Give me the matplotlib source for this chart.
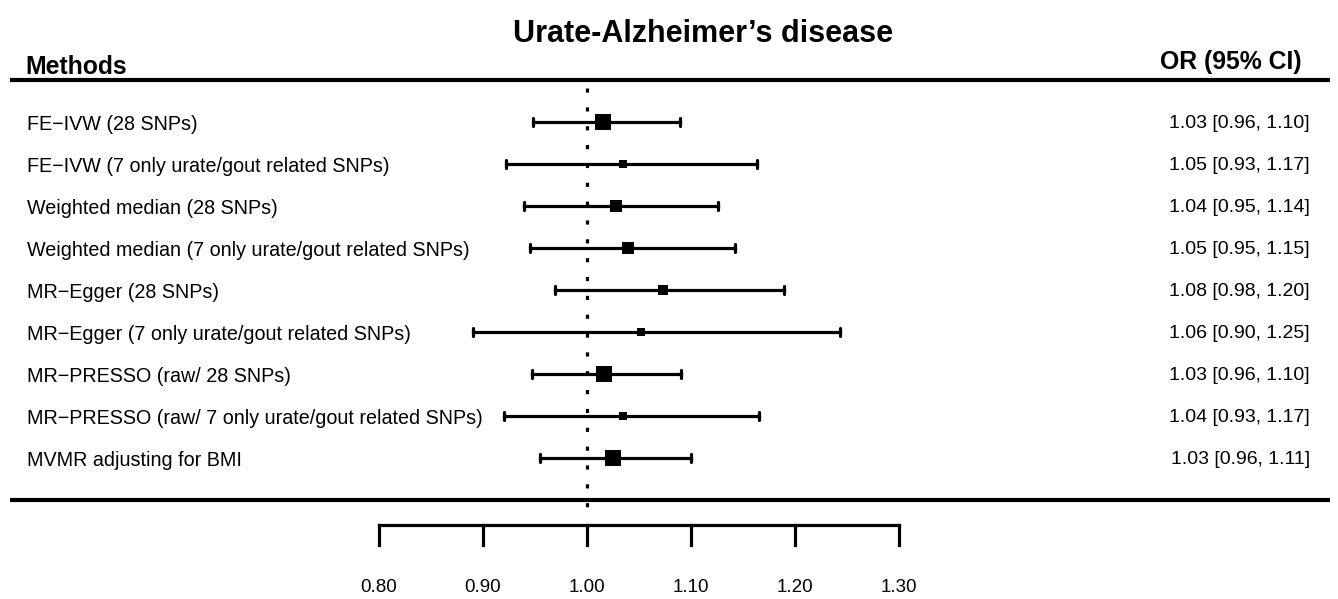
import matplotlib
matplotlib.use('Agg')
import matplotlib.pyplot as plt
import matplotlib.transforms as mtransforms

plt.rcParams['font.family'] = ['Liberation Sans', 'DejaVu Sans']

# data
methods = ['FE\u2212IVW (28 SNPs)',
           'FE\u2212IVW (7 only urate/gout related SNPs)',
           'Weighted median (28 SNPs)',
           'Weighted median (7 only urate/gout related SNPs)',
           'MR\u2212Egger (28 SNPs)',
           'MR\u2212Egger (7 only urate/gout related SNPs)',
           'MR\u2212PRESSO (raw/ 28 SNPs)',
           'MR\u2212PRESSO (raw/ 7 only urate/gout related SNPs)',
           'MVMR adjusting for BMI']
estimate = [1.015, 1.035, 1.028, 1.039, 1.073, 1.052, 1.016, 1.035, 1.025]
ci_low = [0.948, 0.922, 0.939, 0.945, 0.969, 0.890, 0.947, 0.920, 0.955]
ci_high = [1.089, 1.163, 1.126, 1.142, 1.189, 1.243, 1.090, 1.165, 1.100]
weight = [14, 8, 11, 11, 10, 7, 14, 8, 15]   # square side, px
or_text = ['1.03 [0.96, 1.10]', '1.05 [0.93, 1.17]', '1.04 [0.95, 1.14]',
           '1.05 [0.95, 1.15]', '1.08 [0.98, 1.20]', '1.06 [0.90, 1.25]',
           '1.03 [0.96, 1.10]', '1.04 [0.93, 1.17]', '1.03 [0.96, 1.11]']
ticks = [0.80, 0.90, 1.00, 1.10, 1.20, 1.30]

W, H = 1338, 599
fig = plt.figure(figsize=(W / 100, H / 100), dpi=100)
ax = fig.add_axes([0, 0, 1, 1])
ax.axis('off')

# pixel -> data: x = 1 + (px - 587)/1040, y row = (py - 80)/42
ax.set_xlim(1 + (0 - 587) / 1040, 1 + (W - 587) / 1040)
ax.set_ylim((H - 80) / 42, -80 / 42)

n = len(methods)
rows = list(range(1, n + 1))
bottom = n + 1
axis_y = bottom + 25 / 42
tick_len = 20 / 42

# heavy rules
fx = mtransforms.blended_transform_factory(ax.transAxes, ax.transData)
ax.plot([10 / W, 1330 / W], [0, 0], color='black', lw=3, transform=fx, solid_capstyle='butt')
ax.plot([10 / W, 1330 / W], [bottom, bottom], color='black', lw=3, transform=fx,
        solid_capstyle='butt')

# reference line at 1
ax.plot([1, 1], [0.2, bottom + 0.3], color='black', lw=2.3, linestyle=(0, (1.3, 4.6)),
        dash_capstyle='butt')

# CIs and squares
for i, y in enumerate(rows):
    ax.plot([ci_low[i], ci_high[i]], [y, y], color='black', lw=2.3)
    for v in (ci_low[i], ci_high[i]):
        ax.plot([v, v], [y - 0.1, y + 0.1], color='black', lw=2.3, solid_capstyle='round')
    ax.plot(estimate[i], y, marker='s', color='black', markersize=weight[i] * 0.78,
            markeredgewidth=0)

# x axis
ax.plot([ticks[0], ticks[-1]], [axis_y, axis_y], color='black', lw=2.3,
        solid_capstyle='projecting')
for t in ticks:
    ax.plot([t, t], [axis_y, axis_y + tick_len], color='black', lw=2.3)
    ax.text(t, axis_y + 62 / 42, '%.2f' % t, ha='center', va='center', fontsize=13.5)

# text columns
for i, y in enumerate(rows):
    ax.text(27 / W, y, methods[i], ha='left', va='center_baseline', fontsize=14.2,
            transform=fx)
    ax.text(1310 / W, y, or_text[i], ha='right', va='center_baseline', fontsize=14,
            transform=fx)

ax.text(25 / W, -16 / 42, 'Methods', ha='left', va='center_baseline', fontsize=17.8,
        fontweight='bold', transform=fx)
ax.text(1302 / W, -20 / 42, 'OR (95% CI)', ha='right', va='center_baseline',
        fontsize=17.8, fontweight='bold', transform=fx)
ax.text(703 / W, -50 / 42, 'Urate-Alzheimer\u2019s disease', ha='center',
        va='center_baseline', fontsize=22, fontweight='bold', transform=fx)

fig.savefig('out.png', dpi=100)
